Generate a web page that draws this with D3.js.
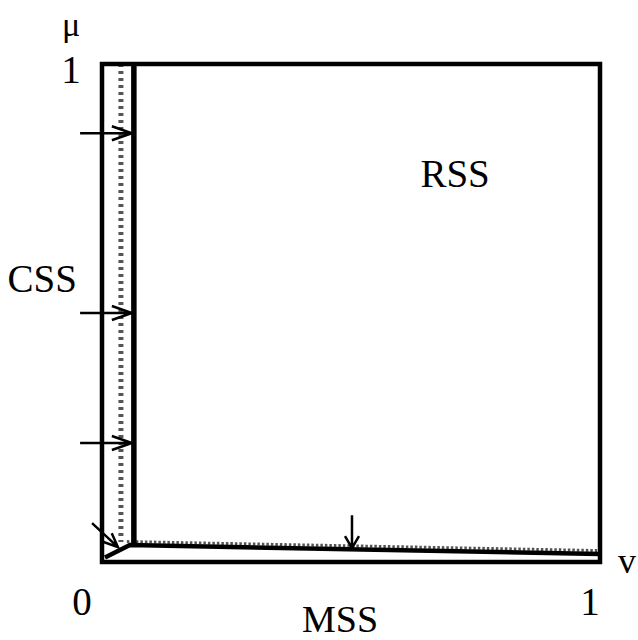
<!DOCTYPE html>
<html><head><meta charset="utf-8">
<script src="https://cdn.jsdelivr.net/npm/d3@7"></script>
<style>body{margin:0;background:#fff}svg{display:block}</style>
</head><body><svg id="c" width="638" height="640"></svg>
<script>
// ---- data (unit square coordinates: nu on x, mu on y) ----
const domainX = [0, 1];
const domainY = [0, 1];
const thickVertical = [[0.064, 1], [0.064, 0.034]];
const thickBottom = [[0.006, 0.009], [0.056, 0.034], [1.0, 0.016]];
const dottedVertical = [[0.038, 1], [0.038, 0.040]];
const dottedBottom = [[0.05, 0.041], [0.994, 0.023]];
const rightArrowsY = [0.861, 0.5, 0.239];
const rightArrowX = [-0.044, 0.060];
const downArrow = [[0.502, 0.094], [0.502, 0.028]];
const diagArrow = [[-0.02, 0.078], [0.032, 0.03]];
const tickLabels = [
  {t: "0", x: 0, y: 0, pos: "bottom"},
  {t: "1", x: 1, y: 0, pos: "bottom"},
  {t: "1", x: 0, y: 1, pos: "left"}
];
const axisNames = [{t: "μ", which: "y"}, {t: "v", which: "x"}];
const regionLabels = [
  {t: "RSS", x: 0.709, y: 0.754},
  {t: "CSS", x: -0.12, y: 0.543},
  {t: "MSS", x: 0.478, y: -0.14}
];

// ---- drawing ----
const FONT = "'Liberation Serif', 'Times New Roman', Times, serif";
const svg = d3.select("#c");
const x = d3.scaleLinear().domain(domainX).range([102, 600]);
const y = d3.scaleLinear().domain(domainY).range([562, 64]);
const line = d3.line().x(d => x(d[0])).y(d => y(d[1]));

// dotted gray
svg.append("path").attr("d", line(dottedVertical)).attr("fill", "none")
  .attr("stroke", "#555").attr("stroke-width", 5).attr("stroke-dasharray", "3,4");
svg.append("path").attr("d", line(dottedBottom)).attr("fill", "none")
  .attr("stroke", "#555").attr("stroke-width", 3).attr("stroke-dasharray", "2.5,2");

// outer box
svg.append("rect").attr("x", x(0)).attr("y", y(1)).attr("width", x(1) - x(0)).attr("height", y(0) - y(1))
  .attr("fill", "none").attr("stroke", "#000").attr("stroke-width", 4.5);

// thick boundaries
svg.append("path").attr("d", line(thickVertical)).attr("fill", "none")
  .attr("stroke", "#000").attr("stroke-width", 5.5);
svg.append("path").attr("d", line(thickBottom)).attr("fill", "none")
  .attr("stroke", "#000").attr("stroke-width", 4.5).attr("stroke-linejoin", "round");

// arrows
function arrow(p0, p1, headLen, headHalf) {
  const x0 = x(p0[0]), y0 = y(p0[1]), x1 = x(p1[0]), y1 = y(p1[1]);
  const a = Math.atan2(y1 - y0, x1 - x0);
  const bx = x1 - headLen * Math.cos(a), by = y1 - headLen * Math.sin(a);
  const nx = -Math.sin(a) * headHalf, ny = Math.cos(a) * headHalf;
  svg.append("path").attr("d", `M${x0},${y0}L${x1},${y1}M${bx + nx},${by + ny}L${x1},${y1}L${bx - nx},${by - ny}`)
    .attr("fill", "none").attr("stroke", "#000").attr("stroke-width", 2.5);
}
rightArrowsY.forEach(v => arrow([rightArrowX[0], v], [rightArrowX[1], v], 20, 7));
arrow(downArrow[0], downArrow[1], 12, 7);
arrow(diagArrow[0], diagArrow[1], 14, 6);

// labels
const fs = 39;
function txt(s, px, py, size, anchor) {
  return svg.append("text").attr("font-family", FONT).attr("font-size", size)
    .attr("text-anchor", anchor || "middle").attr("x", px).attr("y", py).attr("fill", "#000").text(s);
}
tickLabels.forEach(d => {
  if (d.pos === "bottom") txt(d.t, x(d.x) + (d.x === 0 ? -20 : -10), y(d.y) + 53, fs);
  else txt(d.t, x(d.x) - 31, y(d.y) + 19, fs);
});
txt(axisNames[0].t, x(0) - 31, y(1) - 28, 34);
txt(axisNames[1].t, x(1) + 18, y(0) + 11, 36, "start");
regionLabels.forEach(d => txt(d.t, x(d.x), y(d.y), d.t === "MSS" ? 38 : fs));
</script></body></html>
